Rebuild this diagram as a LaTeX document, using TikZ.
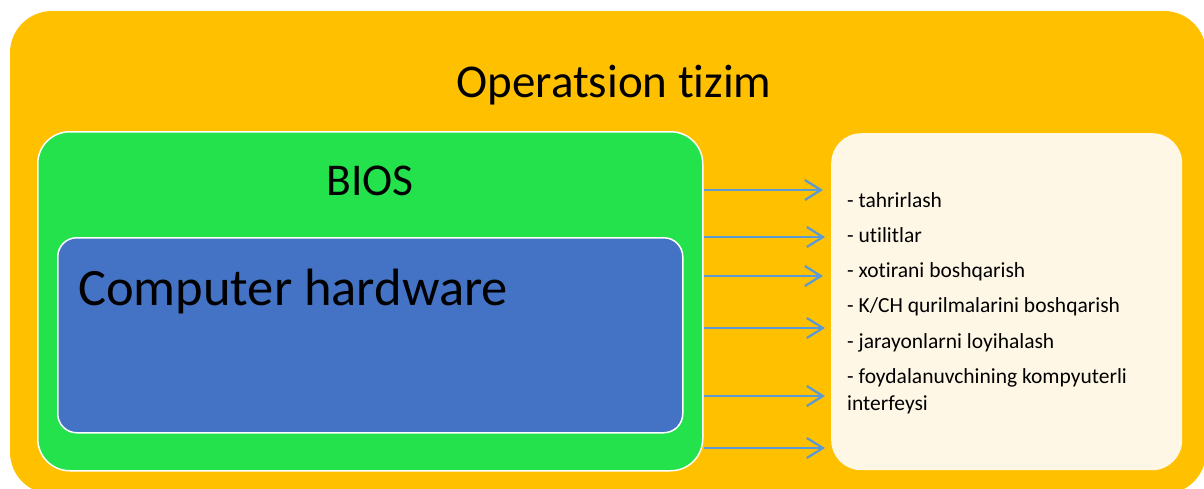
\documentclass[tikz,border=0pt]{standalone}
\usepackage{fontspec}
\setmainfont{Carlito}[Ligatures=NoCommon]
\usetikzlibrary{arrows.meta}
\definecolor{osorange}{HTML}{FFC000}
\definecolor{biosgreen}{HTML}{24E24C}
\definecolor{hwblue}{HTML}{4472C4}
\definecolor{listcream}{HTML}{FFF7E6}
\definecolor{arrblue}{HTML}{5B9BD5}
\tikzset{
  lbl/.style={inner sep=0pt, text=black},
  item/.style={lbl, anchor=base west, font=\fontsize{21.5}{27}\selectfont},
  arr/.style={draw=arrblue, line width=2.3pt, -{Straight Barb[length=16pt,width=20pt,line width=2.3pt]}}
}
\begin{document}
\begin{tikzpicture}[x=1pt,y=-1pt]
\useasboundingbox (0,0) rectangle (1204,488);
\clip (0,0) rectangle (1204,488);
% boxes
\path[fill=osorange, rounded corners=42pt] (10,11) rectangle (1206,494);
\node[draw=white, line width=1.5pt, fill=biosgreen, rounded corners=32pt, minimum width=665pt, minimum height=339pt, anchor=north west, inner sep=0pt] (bios) at (37,131) {};
\node[draw=white, line width=1.5pt, fill=hwblue, rounded corners=19pt, minimum width=625pt, minimum height=195pt, anchor=north west, inner sep=0pt] (hw) at (57,237) {};
\node[fill=listcream, rounded corners=30pt, minimum width=351pt, minimum height=337pt, anchor=north west, inner sep=0pt] (list) at (831,133) {};
% titles
\node[lbl, anchor=base, font=\fontsize{47}{52}\selectfont] (os) at (614,97) {Operatsion tizim};
\node[lbl, anchor=base, font=\fontsize{45.5}{50}\selectfont] (biost) at (370,195) {BIOS};
\node[lbl, anchor=base west, font=\fontsize{52.5}{58}\selectfont] (hwt) at (78,305) {Computer hardware};
% list items
\node[item] (i1) at (847,207) {- tahrirlash};
\node[item] (i2) at (847,242) {- utilitlar};
\node[item] (i3) at (847,277) {- xotirani boshqarish};
\node[item] (i4) at (847,312) {- K/CH qurilmalarini boshqarish};
\node[item] (i5) at (847,348) {- jarayonlarni loyihalash};
\node[item] (i6) at (847,383) {- foydalanuvchining kompyuterli};
\node[item] (i6b) at (847,410) {interfeysi};
% arrow ends
\coordinate (a1) at (823,190);
\coordinate (a2) at (825,237);
\coordinate (a3) at (823,276);
\coordinate (a4) at (825,328);
\coordinate (a5) at (825,396);
\coordinate (a6) at (825,448);
\foreach \k in {1,...,6} {
  \draw[arr] (bios.east |- a\k) -- (a\k);
}
\end{tikzpicture}
\end{document}
